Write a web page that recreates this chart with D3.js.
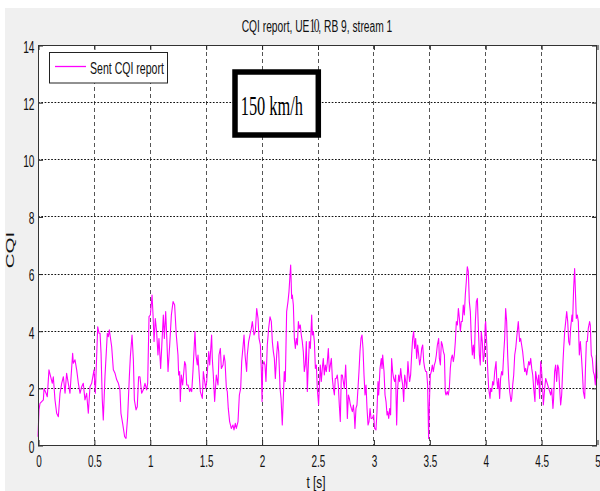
<!DOCTYPE html>
<html><head><meta charset="utf-8">
<script src="https://cdn.jsdelivr.net/npm/d3@7"></script>
<style>html,body{margin:0;padding:0;background:#fff;} svg{display:block;}</style>
</head><body>
<script>
// ---------- data ----------
const xTicks = [0,0.5,1,1.5,2,2.5,3,3.5,4,4.5,5];
const xTickLabels = ["0","0.5","1","1.5","2","2.5","3","3.5","4","4.5","5"];
const yTicks = [0,2,4,6,8,10,12,14];
const yTickLabels = ["0","2","4","6","8","10","12","14"];
const titleParts = ["CQI report, UE","10",", RB 9, stream 1"];
const xLabel = "t [s]";
const yLabel = "CQI";
const legendLabel = "Sent CQI report";
const annotation = "150 km/h";

// [time (s), CQI] samples
const seg0 = [[0,0.29],[0.009,1.23],[0.018,1.46],[0.033,1.52],[0.048,1.58],[0.054,1.98],[0.072,1.81],[0.083,1.69],[0.098,2.63],[0.113,2.39],[0.128,2.16],[0.137,2.39],[0.152,1.58],[0.167,1.11],[0.182,0.99],[0.197,1.81],[0.212,2.16],[0.227,2.39],[0.242,1.81],[0.256,2.51],[0.271,2.16],[0.286,1.81],[0.310,3.21],[0.316,2.86],[0.331,2.98],[0.346,2.63],[0.361,2.16],[0.376,1.81],[0.391,2.04],[0.405,2.16],[0.420,1.58],[0.435,1.81],[0.450,1.11],[0.465,2.04],[0.480,2.16],[0.501,2.63],[0.513,1.81],[0.534,4.14],[0.546,3.91],[0.555,3.91],[0.564,3.21],[0.575,1.58],[0.584,0.88],[0.599,2.39],[0.620,3.91],[0.629,3.79],[0.638,4.03],[0.659,3.44],[0.674,2.63],[0.689,2.51],[0.704,2.28],[0.719,2.16],[0.733,1.93],[0.742,1.11],[0.757,0.76],[0.775,0.29],[0.787,0.23],[0.802,0.99],[0.817,2.39],[0.826,3.09],[0.841,3.85],[0.853,2.98],[0.862,1.58],[0.877,1.23],[0.888,1.34],[0.900,2.39],[0.912,2.39],[0.927,1.81],[0.942,1.93],[0.957,2.16],[0.972,1.93],[0.981,2.16],[0.993,4.49]];
const seg1 = [[1.005,4.55],[1.020,5.25],[1.029,4.55],[1.038,3.62],[1.049,4.43],[1.061,3.97],[1.073,3.15],[1.082,3.73],[1.097,2.68],[1.109,3.62],[1.121,4.55],[1.130,3.73],[1.142,4.67],[1.151,3.85],[1.163,2.57],[1.178,3.50],[1.193,4.55],[1.208,5.02],[1.222,4.90],[1.237,3.85],[1.252,3.15],[1.258,2.45],[1.267,2.57],[1.273,1.52],[1.282,2.45],[1.294,2.10],[1.312,2.92],[1.321,2.80],[1.330,2.10],[1.342,2.10],[1.357,1.87],[1.366,1.98],[1.375,1.87],[1.386,2.57],[1.404,3.97],[1.413,3.15],[1.425,2.80],[1.431,3.15],[1.440,2.57],[1.452,1.87],[1.470,1.63],[1.479,2.57],[1.491,2.22],[1.500,1.98],[1.509,2.22],[1.527,3.27],[1.536,2.80],[1.553,3.85],[1.559,3.03],[1.568,2.45],[1.580,1.52],[1.595,2.45],[1.610,2.10],[1.619,3.15],[1.631,3.38],[1.640,2.68],[1.655,2.80],[1.664,3.15],[1.673,2.92],[1.685,1.98],[1.693,1.87],[1.702,1.28],[1.714,0.82],[1.729,0.58],[1.744,0.70],[1.753,0.53],[1.765,0.76],[1.774,0.58],[1.789,0.82],[1.801,1.75],[1.813,1.98],[1.822,2.92],[1.843,3.85],[1.852,3.15],[1.866,2.57],[1.872,3.15],[1.884,3.62],[1.908,4.08],[1.917,4.32],[1.932,3.85],[1.944,3.97],[1.956,4.78],[1.968,4.43],[1.977,3.73],[1.989,3.50],[1.998,2.57],[2.004,1.52]];
const seg2 = [[2.010,2.80],[2.021,2.92],[2.030,2.80],[2.039,2.22],[2.051,3.50],[2.063,4.08],[2.075,4.49],[2.087,4.32],[2.096,3.62],[2.105,3.27],[2.114,3.03],[2.123,2.33],[2.135,3.15],[2.144,3.62],[2.153,3.27],[2.165,1.98],[2.174,1.63],[2.185,0.70],[2.194,1.63],[2.203,2.57],[2.212,2.22],[2.224,4.67],[2.236,5.02],[2.245,5.37],[2.254,5.95],[2.260,6.30],[2.269,5.13],[2.275,5.25],[2.284,4.90],[2.293,3.73],[2.302,3.38],[2.311,3.73],[2.320,3.50],[2.329,4.32],[2.337,4.08],[2.346,4.20],[2.355,3.85],[2.364,3.62],[2.373,3.27],[2.382,2.57],[2.391,2.80],[2.400,3.62],[2.409,1.87],[2.418,2.80],[2.427,3.62],[2.436,3.38],[2.448,4.55],[2.454,3.85],[2.463,3.97],[2.472,3.62],[2.481,2.68],[2.490,2.80],[2.498,1.98],[2.510,1.40],[2.516,1.98],[2.525,2.80],[2.534,2.22],[2.543,2.68],[2.552,3.03],[2.561,2.45],[2.570,2.80],[2.579,2.57],[2.588,2.92],[2.597,3.38],[2.606,2.57],[2.615,2.80],[2.624,3.03],[2.633,2.33],[2.642,1.98],[2.651,1.75],[2.659,2.33],[2.668,2.33],[2.677,2.45],[2.686,2.10],[2.695,1.40],[2.704,0.82],[2.713,2.45],[2.722,2.45],[2.731,2.22],[2.740,1.98],[2.752,2.80],[2.758,2.22],[2.767,0.93],[2.776,1.75],[2.785,1.63],[2.794,1.40],[2.803,1.28],[2.812,1.17],[2.821,1.40],[2.829,1.05],[2.835,0.58],[2.844,1.28],[2.853,1.40],[2.862,1.98],[2.871,2.57],[2.880,3.27],[2.889,3.73],[2.898,3.85],[2.907,3.38],[2.916,2.45],[2.925,1.75],[2.934,2.10],[2.943,1.28],[2.952,0.70],[2.961,0.82],[2.970,1.28],[2.979,0.93],[2.987,0.93],[2.996,0.99]];
const seg3 = [[3.002,1.05],[3.011,0.58],[3.023,0.53],[3.032,1.17],[3.041,2.22],[3.047,1.75],[3.059,2.68],[3.071,3.03],[3.077,2.68],[3.083,3.15],[3.095,2.57],[3.104,1.75],[3.113,1.52],[3.122,1.05],[3.128,1.17],[3.137,0.93],[3.146,1.28],[3.154,1.05],[3.163,3.03],[3.172,2.57],[3.181,2.33],[3.190,2.22],[3.199,2.45],[3.208,0.70],[3.217,1.98],[3.226,2.45],[3.235,2.22],[3.244,2.68],[3.253,2.33],[3.262,2.10],[3.271,1.52],[3.280,2.45],[3.289,2.22],[3.298,1.98],[3.309,2.92],[3.315,2.57],[3.324,2.22],[3.333,2.45],[3.342,3.15],[3.351,3.73],[3.360,3.97],[3.369,3.38],[3.378,3.73],[3.387,3.03],[3.396,3.50],[3.405,3.15],[3.414,2.80],[3.423,3.03],[3.432,3.38],[3.441,3.50],[3.450,2.92],[3.459,2.68],[3.468,2.57],[3.476,2.57],[3.485,2.10],[3.494,0.23],[3.500,1.40],[3.509,2.45],[3.518,2.57],[3.527,2.80],[3.536,2.57],[3.545,2.80],[3.554,2.92],[3.563,3.15],[3.572,3.50],[3.584,3.73],[3.590,3.03],[3.599,2.80],[3.608,3.62],[3.617,3.50],[3.626,3.27],[3.635,3.15],[3.643,1.87],[3.649,1.75],[3.661,1.87],[3.670,1.75],[3.679,1.98],[3.688,2.68],[3.697,3.03],[3.706,3.15],[3.715,2.92],[3.724,3.15],[3.733,3.62],[3.742,4.32],[3.751,4.20],[3.760,4.78],[3.769,4.43],[3.778,3.97],[3.786,4.32],[3.795,4.32],[3.804,4.90],[3.813,4.55],[3.822,5.25],[3.831,5.72],[3.840,6.24],[3.849,6.07],[3.858,5.02],[3.867,4.67],[3.876,3.73],[3.885,3.15],[3.894,3.50],[3.903,3.03],[3.912,4.32],[3.921,5.02],[3.930,5.13],[3.939,4.08],[3.948,3.15],[3.956,2.80],[3.965,3.97],[3.974,3.62],[3.983,2.92],[3.992,3.15]];
const seg4 = [[4.000,4.20],[4.004,4.32],[4.013,3.62],[4.022,2.68],[4.031,1.98],[4.043,1.63],[4.049,1.98],[4.058,1.87],[4.067,2.22],[4.076,2.10],[4.085,2.57],[4.097,2.92],[4.103,2.33],[4.112,1.98],[4.120,2.33],[4.129,1.63],[4.138,2.33],[4.147,2.57],[4.156,2.45],[4.165,3.15],[4.174,3.73],[4.183,4.78],[4.192,4.32],[4.201,3.15],[4.210,2.33],[4.219,1.87],[4.231,1.52],[4.237,1.63],[4.246,2.10],[4.255,2.45],[4.264,3.15],[4.273,3.38],[4.281,3.73],[4.296,4.32],[4.308,3.62],[4.317,3.73],[4.326,3.50],[4.335,3.27],[4.344,2.92],[4.353,2.57],[4.362,2.68],[4.371,2.45],[4.380,2.68],[4.389,2.92],[4.398,2.80],[4.407,3.03],[4.416,2.68],[4.425,2.45],[4.434,1.98],[4.445,1.52],[4.451,2.57],[4.460,2.33],[4.469,2.10],[4.478,2.45],[4.487,1.63],[4.496,2.92],[4.505,2.57],[4.514,1.98],[4.520,1.40],[4.532,1.98],[4.541,2.33],[4.550,2.22],[4.559,2.10],[4.568,1.98],[4.577,1.87],[4.586,1.75],[4.595,1.98],[4.606,1.28],[4.612,1.63],[4.621,2.57],[4.630,2.80],[4.639,2.22],[4.648,2.80],[4.657,2.68],[4.666,1.98],[4.675,1.40],[4.684,1.75],[4.696,2.92],[4.702,3.38],[4.711,3.97],[4.720,4.32],[4.729,4.67],[4.738,4.32],[4.747,3.62],[4.756,3.50],[4.764,4.08],[4.776,4.55],[4.782,4.32],[4.791,5.48],[4.800,6.18],[4.806,5.48],[4.815,4.43],[4.824,4.55],[4.833,4.32],[4.842,3.15],[4.851,3.62],[4.860,3.15],[4.869,2.57],[4.878,1.87],[4.890,1.63],[4.896,2.57],[4.905,3.62],[4.913,3.62],[4.922,4.08],[4.934,4.32],[4.940,4.20],[4.949,3.15],[4.958,3.03],[4.967,2.57],[4.976,2.45],[4.985,2.10],[4.994,3.15],[5.000,2.33]];

// ---------- drawing ----------
const W = 600, H = 491;
const L = 38, R = 597, T = 45, B = 445;
const FONT = "'Liberation Sans', Arial, Helvetica, sans-serif";
const SX = 0.62;

const svg = d3.select("body").append("svg").attr("width", W).attr("height", H);
svg.append("rect").attr("width", W).attr("height", H).attr("fill", "#f0f0f0");
svg.append("rect").attr("width", W).attr("height", 8).attr("fill", "#ffffff");
svg.append("rect").attr("width", 5).attr("height", H).attr("fill", "#ffffff");

const x = d3.scaleLinear().domain([0, 5]).range([L, R]);
const y = d3.scaleLinear().domain([0, 14]).range([B, T]);
const px = v => Math.round(v) + 0.5;

svg.append("rect").attr("x", L).attr("y", T).attr("width", R - L).attr("height", B - T).attr("fill", "#ffffff");

// grid
const grid = svg.append("g");
grid.selectAll("line.gv").data(xTicks.slice(1, -1)).join("line").attr("class", "gv")
  .attr("x1", d => px(x(d))).attr("x2", d => px(x(d))).attr("y1", T).attr("y2", B)
  .attr("stroke", "#555").attr("stroke-width", 1).attr("stroke-dasharray", "4,3");
grid.selectAll("line.gh").data(yTicks.slice(1, -1)).join("line").attr("class", "gh")
  .attr("x1", L).attr("x2", R).attr("y1", d => px(y(d))).attr("y2", d => px(y(d)))
  .attr("stroke", "#111").attr("stroke-width", 1).attr("stroke-dasharray", "1.7,1.6");

// data line
const series = seg0.concat(seg1, seg2, seg3, seg4);
const line = d3.line().x(d => x(d[0])).y(d => y(d[1]));
svg.append("path").datum(series).attr("d", line)
  .attr("fill", "none").attr("stroke", "#ff00ff").attr("stroke-width", 1.1).attr("stroke-linejoin", "round");

// axes
function styleAxis(g) {
  g.select(".domain").remove();
  g.selectAll(".tick line").attr("stroke", "#222");
}
const xAxisB = d3.axisBottom(x).tickValues(xTicks).tickFormat((d, i) => xTickLabels[i]).tickSizeInner(-5).tickSizeOuter(0);
const gxb = svg.append("g").attr("transform", `translate(0.5,${B})`).call(xAxisB).call(styleAxis);
gxb.selectAll(".tick text").attr("y", 22).attr("dy", null)
  .attr("font-family", FONT).attr("font-size", 16).attr("fill", "#111")
  .attr("transform", `scale(${SX},1)`);

const xAxisT = d3.axisTop(x).tickValues(xTicks).tickFormat("").tickSizeInner(-5).tickSizeOuter(0);
svg.append("g").attr("transform", `translate(0.5,${T})`).call(xAxisT).call(styleAxis);

const yAxisL = d3.axisLeft(y).tickValues(yTicks).tickFormat((d, i) => yTickLabels[i]).tickSizeInner(-5).tickSizeOuter(0);
const gyl = svg.append("g").attr("transform", `translate(${L},0.5)`).call(yAxisL).call(styleAxis);
gyl.selectAll(".tick text").attr("x", -3.5).attr("dy", null).attr("y", 6.8)
  .attr("font-family", FONT).attr("font-size", 16.5).attr("fill", "#111")
  .attr("text-anchor", "end").attr("transform", `scale(${SX},1)`);
// text x is scaled too; put it in scaled coordinates
gyl.selectAll(".tick text").attr("x", -3.5 / SX);

const yAxisR = d3.axisRight(y).tickValues(yTicks).tickFormat("").tickSizeInner(-5).tickSizeOuter(0);
svg.append("g").attr("transform", `translate(${R},0.5)`).call(yAxisR).call(styleAxis);

// box
svg.append("rect").attr("x", L + 0.5).attr("y", T + 0.5).attr("width", R - L - 1).attr("height", B - T)
  .attr("fill", "none").attr("stroke", "#333").attr("stroke-width", 1);

// title
const title = svg.append("text").attr("transform", `translate(317,31.7) scale(0.64,1)`)
  .attr("text-anchor", "middle").attr("font-family", FONT).attr("font-size", 16).attr("fill", "#111");
title.append("tspan").text(titleParts[0]);
title.append("tspan").text(titleParts[1]).attr("font-family", "'Liberation Serif', 'Times New Roman', serif")
  .attr("font-size", 18).attr("letter-spacing", -2);
title.append("tspan").text(titleParts[2]);

// axis labels
svg.append("text").attr("transform", `translate(316,488) scale(0.74,1)`)
  .attr("text-anchor", "middle").attr("font-family", FONT).attr("font-size", 16).attr("fill", "#111").text(xLabel);
svg.append("text").attr("transform", `translate(14,250) rotate(-90) scale(1,0.5)`)
  .attr("text-anchor", "middle").attr("font-family", FONT).attr("font-size", 20.6).attr("fill", "#111").text(yLabel);

// legend
const lg = svg.append("g");
lg.append("rect").attr("x", 49.5).attr("y", 52.5).attr("width", 118).attr("height", 30.5)
  .attr("fill", "#fff").attr("stroke", "#222").attr("stroke-width", 1);
lg.append("line").attr("x1", 55).attr("x2", 86).attr("y1", 66.5).attr("y2", 66.5)
  .attr("stroke", "#ff00ff").attr("stroke-width", 1.3);
lg.append("text").attr("transform", `translate(90,74) scale(0.64,1)`)
  .attr("font-family", FONT).attr("font-size", 16.5).attr("fill", "#111").text(legendLabel);

// annotation box
const ann = svg.append("g");
ann.append("rect").attr("x", 235).attr("y", 72).attr("width", 83.3).attr("height", 63)
  .attr("fill", "#fff").attr("stroke", "#000").attr("stroke-width", 5.5);
ann.append("text").attr("x", 240.7).attr("y", 115).attr("textLength", 62.3).attr("lengthAdjust", "spacingAndGlyphs")
  .attr("font-family", "'Liberation Serif', 'Times New Roman', serif").attr("font-size", 27).attr("fill", "#000").text(annotation);
</script>
</body></html>
